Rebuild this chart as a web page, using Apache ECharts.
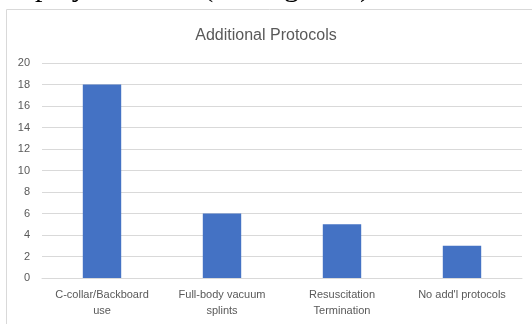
<!DOCTYPE html>
<html>
<head>
<meta charset="utf-8">
<script src="https://cdn.jsdelivr.net/npm/echarts@6/dist/echarts.min.js"></script>
<style>
  html, body { margin: 0; padding: 0; background: #fff; }
  #chart { width: 532px; height: 324px; }
</style>
</head>
<body>
<div id="chart"></div>
<script>
// chart data
const categories = ['C-collar/Backboard\nuse', 'Full-body vacuum\nsplints', 'Resuscitation\nTermination', "No add'l protocols"];
const counts = [18, 6, 5, 3];
const yTicks = { min: 0, max: 20, interval: 2 };

const chart = echarts.init(document.getElementById('chart'));

chart.setOption({
  animation: false,
  title: {
    text: 'Additional Protocols',
    left: 'center',
    top: 23,
    textStyle: { fontFamily: 'Liberation Sans', fontSize: 16, fontWeight: 'normal', color: '#595959' }
  },
  graphic: [
    {
      type: 'rect',
      shape: { x: 6.5, y: 9.5, width: 540, height: 330 },
      style: { fill: 'none', stroke: '#d9d9d9', lineWidth: 1 },
      silent: true
    },
    {
      type: 'text',
      left: 0,
      top: -27,
      style: { text: 'displayed below (see Figure 3).', font: '30px "Liberation Serif"', fill: '#000' },
      silent: true
    }
  ],
  grid: { left: 42, right: 10, top: 63, bottom: 46 },
  xAxis: {
    type: 'category',
    data: categories,
    axisLine: { lineStyle: { color: '#d9d9d9' } },
    axisTick: { show: false },
    axisLabel: { color: '#595959', fontFamily: 'Liberation Sans', fontSize: 11, lineHeight: 16, margin: 9, interval: 0 }
  },
  yAxis: {
    type: 'value',
    min: yTicks.min,
    max: yTicks.max,
    interval: yTicks.interval,
    axisLine: { show: false },
    axisTick: { show: false },
    axisLabel: { color: '#595959', fontFamily: 'Liberation Sans', fontSize: 11, margin: 12 },
    splitLine: { lineStyle: { color: '#d9d9d9' } }
  },
  series: [{
    type: 'bar',
    data: counts,
    barWidth: '32%',
    itemStyle: { color: '#4472c4' }
  }]
});
</script>
</body>
</html>
